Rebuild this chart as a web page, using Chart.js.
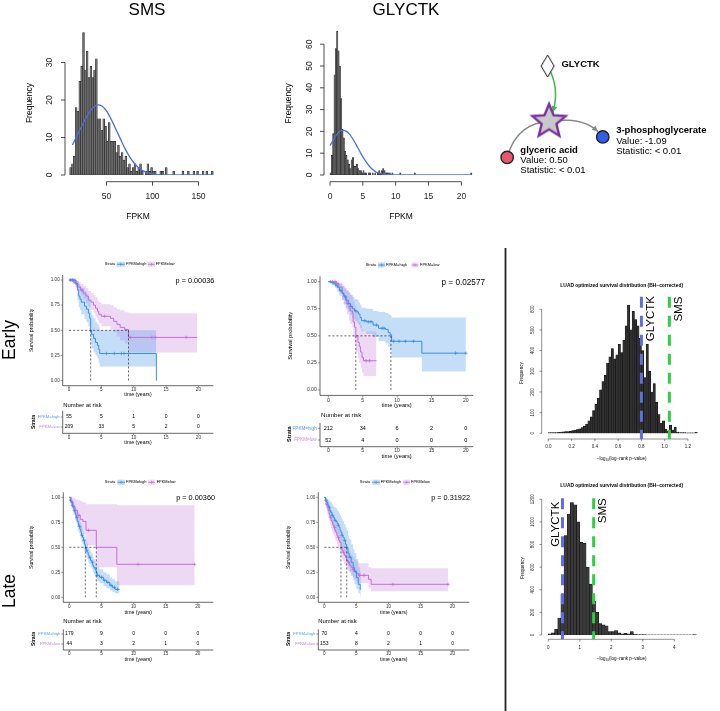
<!DOCTYPE html>
<html><head><meta charset="utf-8"><title>SMS / GLYCTK survival figure</title>
<script src="https://cdn.jsdelivr.net/npm/chart.js@4.4.1/dist/chart.umd.min.js"></script>
<style>
html,body{margin:0;padding:0;background:#fff;}
#wrap{position:relative;width:720px;height:711px;overflow:hidden;background:#fff;}
#wrap canvas{position:absolute;left:0;top:0;}
</style></head><body><div id="wrap"></div>
<script>
// ================= DATA =================
// SMS expression histogram (bins of 2 FPKM starting at 10)
const smsBinStart = 10, smsBinWidth = 2;
const smsCounts = [2,3,5,18,17,25,29,38,28,33, 26,29,26,28,31,15,15,12,15,13, 9,14,9,9,9,6,8,5,6,4, 5,2,3,1,2,3,1,2,3,1, 0,1,3,1,2,1,1,0,0,1, 1,0,2,0,0,0,1,0,0,0, 0,1,0,0,1,0,0,1,0,1, 0,0,1,0,1,0,0,1];
const smsDensity = [[13,8],[20,11.5],[25,14],[30,16.2],[35,17.9],[41,18.7],[45,18.4],[50,17.1],[55,14.9],[60,12.3],[65,9.7],[70,7.1],[75,4.9],[80,3.2],[85,1.9],[90,1.1],[95,0.6],[100,0.3],[110,0.05],[120,0],[166,0]];
const smsYTicks = [0,10,20,30];
const smsXTicks = [50,100,150];

// GLYCTK expression histogram (bins of 0.2 FPKM starting at 0)
const glyBinStart = 0, glyBinWidth = 0.2;
const glyCounts = [1,9,19,46,58,66,57,50,35,21, 17,11,9,7,5,3,7,8,4,4, 5,3,2,2,1,2,1,1,0,1, 1,0,1,0,1,0,1,2,1,2, 3,2,1,1,1,1,0,1,0,0, 0,0,0,1,0,0,0,0,0,0, 0,0,0,0,1,0,0,0,0,0, 0,0,0,0,0,0,0,0,0,0, 0,0,0,0,0,0,0,0,0,0, 0,0,0,0,0,0,0,0,0,0, 0,0,0,0,0,0,0,1];
const glyDensity = [[0,13.5],[0.5,16],[1,18.5],[1.5,20],[2,20.5],[2.5,20],[3,18.6],[3.5,16.4],[4,13.8],[4.5,11],[5,8.3],[5.5,6],[6,4],[6.5,2.5],[7,1.4],[7.5,0.8],[8,0.4],[9,0.1],[10,0],[21.5,0]];
const glyYTicks = [0,10,20,30,40,50,60];
const glyXTicks = [0,5,10,15,20];

// Pathway diagram nodes
const nodeNames = ['GLYCTK','reaction','glyceric acid','3-phosphoglycerate'];
const nodeX = [73.5, 75, 29.5, 133.3];
const nodeY = [52, 113.3, 153, 130.3];
const metValues = ['0.50','-1.09'];
const metStats = ['< 0.01','< 0.01'];

// Kaplan-Meier curves [time, survival]
const riskTimes = [0,5,10,15,20];
const survTicks = [0,0.25,0.5,0.75,1];
const survTickLabels = ['0.00','0.25','0.50','0.75','1.00'];

// Early, SMS
const e1High = [[0,1],[1.07,0.97],[1.3,0.9],[1.5,0.84],[1.7,0.81],[1.9,0.78],[2.4,0.74],[2.7,0.71],[3.0,0.67],[3.2,0.62],[3.35,0.5],[3.5,0.46],[3.8,0.42],[4.1,0.38],[4.4,0.35],[4.6,0.31],[4.75,0.27],[13.5,0]];
const e1HighUp = [[0,1],[1.07,1],[1.3,0.99],[1.5,0.96],[1.7,0.94],[1.9,0.92],[2.4,0.89],[2.7,0.86],[3.0,0.83],[3.2,0.79],[3.35,0.69],[3.5,0.65],[3.8,0.62],[4.1,0.58],[4.4,0.56],[4.6,0.53],[4.75,0.5],[13.5,0.5]];
const e1HighLo = [[0,1],[1.07,0.92],[1.3,0.8],[1.5,0.73],[1.7,0.7],[1.9,0.66],[2.4,0.61],[2.7,0.58],[3.0,0.54],[3.2,0.48],[3.35,0.36],[3.5,0.32],[3.8,0.28],[4.1,0.25],[4.4,0.22],[4.6,0.18],[4.75,0.14],[13.5,0.14]];
const e1Low = [[0,1],[0.6,0.98],[1.0,0.96],[1.4,0.93],[1.8,0.9],[2.2,0.87],[2.6,0.84],[3.0,0.8],[3.4,0.78],[3.8,0.75],[4.1,0.72],[4.4,0.69],[4.6,0.66],[5.0,0.64],[6.4,0.62],[6.9,0.59],[7.4,0.56],[7.9,0.53],[8.6,0.51],[9.2,0.43],[19.8,0.43]];
const e1LowUp = [[0,1],[0.6,1],[1.0,0.99],[1.4,0.98],[1.8,0.96],[2.2,0.94],[2.6,0.92],[3.0,0.89],[3.4,0.87],[3.8,0.85],[4.1,0.83],[4.4,0.8],[4.6,0.78],[5.0,0.76],[6.4,0.75],[6.9,0.73],[7.4,0.71],[7.9,0.7],[8.6,0.68],[9.2,0.67],[19.8,0.67]];
const e1LowLo = [[0,1],[0.6,0.96],[1.0,0.93],[1.4,0.89],[1.8,0.85],[2.2,0.81],[2.6,0.77],[3.0,0.73],[3.4,0.7],[3.8,0.67],[4.1,0.63],[4.4,0.6],[4.6,0.57],[5.0,0.54],[6.4,0.51],[6.9,0.48],[7.4,0.44],[7.9,0.4],[8.6,0.37],[9.2,0.28],[19.8,0.28]];
const e1CensorHigh = [0.3,0.6,0.8,5.8,7.0,8.1,8.5];
const e1CensorLow = [0.2,0.5,0.9,1.2,2.0,5.5,9.5,12.8,13.3,18.1];
const e1Medians = [3.35,9.2];
const e1RiskHigh = [55,5,1,0,0];
const e1RiskLow = [209,33,5,2,0];

// Early, GLYCTK
const e2High = [[0,1],[0.5,0.99],[1.0,0.97],[1.3,0.95],[1.6,0.92],[2.0,0.89],[2.3,0.86],[2.6,0.83],[2.9,0.8],[3.2,0.77],[3.5,0.75],[3.8,0.73],[4.2,0.72],[4.4,0.7],[4.6,0.67],[4.8,0.64],[5.5,0.63],[6.5,0.6],[7.3,0.57],[8.3,0.56],[8.7,0.53],[9.0,0.51],[9.2,0.45],[13.6,0.34],[20,0.34]];
const e2HighUp = [[0,1],[0.5,1],[1.0,1],[1.3,0.99],[1.6,0.98],[2.0,0.96],[2.3,0.94],[2.6,0.92],[2.9,0.9],[3.2,0.88],[3.5,0.86],[3.8,0.84],[4.2,0.83],[4.4,0.81],[4.6,0.79],[4.8,0.76],[5.5,0.75],[6.5,0.73],[7.3,0.72],[8.3,0.71],[8.7,0.7],[9.0,0.69],[9.2,0.67],[13.6,0.67],[20,0.67]];
const e2HighLo = [[0,1],[0.5,0.97],[1.0,0.94],[1.3,0.91],[1.6,0.87],[2.0,0.83],[2.3,0.79],[2.6,0.76],[2.9,0.72],[3.2,0.69],[3.5,0.66],[3.8,0.64],[4.2,0.62],[4.4,0.6],[4.6,0.57],[4.8,0.54],[5.5,0.52],[6.5,0.49],[7.3,0.45],[8.3,0.43],[8.7,0.4],[9.0,0.37],[9.2,0.3],[13.6,0.17],[20,0.17]];
const e2Low = [[0,1],[1.2,0.98],[1.5,0.95],[2.0,0.9],[2.2,0.87],[2.5,0.83],[2.7,0.8],[3.0,0.75],[3.2,0.73],[3.5,0.71],[3.6,0.63],[3.8,0.58],[4.0,0.5],[4.3,0.44],[4.5,0.4],[4.7,0.35],[4.9,0.3],[5.1,0.27],[7.0,0.27]];
const e2LowUp = [[0,1],[1.2,1],[1.5,0.99],[2.0,0.98],[2.2,0.96],[2.5,0.94],[2.7,0.92],[3.0,0.9],[3.2,0.88],[3.5,0.87],[3.6,0.82],[3.8,0.78],[4.0,0.72],[4.3,0.67],[4.5,0.63],[4.7,0.6],[4.9,0.56],[5.1,0.54],[7.0,0.54]];
const e2LowLo = [[0,1],[1.2,0.94],[1.5,0.9],[2.0,0.83],[2.2,0.79],[2.5,0.74],[2.7,0.7],[3.0,0.64],[3.2,0.61],[3.5,0.58],[3.6,0.49],[3.8,0.43],[4.0,0.35],[4.3,0.29],[4.5,0.25],[4.7,0.2],[4.9,0.16],[5.1,0.13],[7.0,0.13]];
const e2CensorHigh = [0.3,0.7,1.1,1.8,2.5,3.3,4.0,5.3,5.8,6.2,7.0,7.8,8.1,9.5,10.3,11.2,12.4,18.5,20];
const e2CensorLow = [0.6,1.0,1.4,2.8,5.5,6.0];
const e2Medians = [4.0,9.1];
const e2RiskHigh = [212,34,6,2,0];
const e2RiskLow = [52,4,0,0,0];

// Late, SMS
const l1High = [[0,1],[0.15,0.97],[0.3,0.95],[0.45,0.92],[0.6,0.9],[0.75,0.87],[0.9,0.85],[1.0,0.82],[1.1,0.8],[1.25,0.76],[1.4,0.73],[1.5,0.71],[1.65,0.68],[1.8,0.65],[1.9,0.62],[2.05,0.6],[2.2,0.57],[2.35,0.53],[2.5,0.5],[2.65,0.47],[2.8,0.45],[2.95,0.42],[3.1,0.4],[3.3,0.37],[3.5,0.35],[3.65,0.32],[3.8,0.3],[4.0,0.28],[4.15,0.26],[4.3,0.22],[4.7,0.2],[5.3,0.17],[5.8,0.15],[6.3,0.12],[6.7,0.1],[7.1,0.08],[7.8,0.08]];
const l1HighUp = [[0,1],[0.15,0.99],[0.3,0.98],[0.45,0.96],[0.6,0.94],[0.75,0.92],[0.9,0.9],[1.0,0.88],[1.1,0.86],[1.25,0.83],[1.4,0.8],[1.5,0.78],[1.65,0.75],[1.8,0.72],[1.9,0.7],[2.05,0.67],[2.2,0.64],[2.35,0.61],[2.5,0.58],[2.65,0.55],[2.8,0.53],[2.95,0.5],[3.1,0.48],[3.3,0.45],[3.5,0.43],[3.65,0.4],[3.8,0.38],[4.0,0.36],[4.15,0.34],[4.3,0.3],[4.7,0.28],[5.3,0.25],[5.8,0.23],[6.3,0.2],[6.7,0.18],[7.1,0.16],[7.8,0.16]];
const l1HighLo = [[0,1],[0.15,0.94],[0.3,0.91],[0.45,0.88],[0.6,0.85],[0.75,0.82],[0.9,0.79],[1.0,0.76],[1.1,0.74],[1.25,0.7],[1.4,0.66],[1.5,0.64],[1.65,0.61],[1.8,0.58],[1.9,0.55],[2.05,0.53],[2.2,0.5],[2.35,0.46],[2.5,0.43],[2.65,0.4],[2.8,0.38],[2.95,0.35],[3.1,0.33],[3.3,0.3],[3.5,0.28],[3.65,0.25],[3.8,0.23],[4.0,0.21],[4.15,0.19],[4.3,0.16],[4.7,0.14],[5.3,0.11],[5.8,0.09],[6.3,0.07],[6.7,0.05],[7.1,0.04],[7.8,0.04]];
const l1Low = [[0,1],[0.3,0.95],[0.6,0.91],[0.9,0.87],[1.3,0.82],[1.7,0.78],[2.1,0.76],[2.6,0.67],[4.2,0.5],[7.4,0.33],[19.5,0.33]];
const l1LowUp = [[0,1],[0.3,1],[0.6,0.99],[0.9,0.98],[1.3,0.97],[1.7,0.96],[2.1,0.95],[2.6,0.93],[4.2,0.93],[7.4,0.92],[19.5,0.92]];
const l1LowLo = [[0,1],[0.3,0.89],[0.6,0.83],[0.9,0.77],[1.3,0.71],[1.7,0.66],[2.1,0.63],[2.6,0.52],[4.2,0.3],[7.4,0.12],[19.5,0.12]];
const l1CensorHigh = [0.2,0.5,0.8,1.2,1.6,2.0,2.3,2.7,3.2,3.6,4.4,5.0,5.5,6.0,6.5,7.0,7.5];
const l1CensorLow = [0.5,1.5,3.0,10.7,19.5];
const l1Medians = [2.5,4.2];
const l1RiskHigh = [179,9,0,0,0];
const l1RiskLow = [44,3,2,1,0];

// Late, GLYCTK
const l2High = [[0,1],[0.2,0.97],[0.4,0.95],[0.55,0.92],[0.7,0.9],[0.85,0.87],[1.0,0.85],[1.2,0.82],[1.4,0.8],[1.6,0.77],[1.8,0.76],[2.0,0.74],[2.15,0.72],[2.3,0.7],[2.45,0.67],[2.6,0.65],[2.75,0.62],[2.9,0.6],[3.1,0.57],[3.3,0.53],[3.5,0.5],[3.7,0.44],[3.9,0.4],[4.2,0.35],[4.5,0.3],[4.7,0.26],[5.0,0.2],[5.3,0.13],[5.6,0.08],[5.7,0.08]];
const l2HighUp = [[0,1],[0.2,1],[0.4,0.99],[0.55,0.98],[0.7,0.97],[0.85,0.96],[1.0,0.95],[1.2,0.93],[1.4,0.91],[1.6,0.9],[1.8,0.89],[2.0,0.87],[2.15,0.86],[2.3,0.84],[2.45,0.82],[2.6,0.8],[2.75,0.78],[2.9,0.76],[3.1,0.73],[3.3,0.7],[3.5,0.67],[3.7,0.62],[3.9,0.58],[4.2,0.53],[4.5,0.48],[4.7,0.44],[5.0,0.38],[5.3,0.3],[5.6,0.25],[5.7,0.25]];
const l2HighLo = [[0,1],[0.2,0.93],[0.4,0.9],[0.55,0.86],[0.7,0.83],[0.85,0.79],[1.0,0.76],[1.2,0.72],[1.4,0.69],[1.6,0.65],[1.8,0.64],[2.0,0.62],[2.15,0.59],[2.3,0.57],[2.45,0.54],[2.6,0.51],[2.75,0.48],[2.9,0.46],[3.1,0.42],[3.3,0.39],[3.5,0.35],[3.7,0.3],[3.9,0.26],[4.2,0.21],[4.5,0.17],[4.7,0.13],[5.0,0.08],[5.3,0.04],[5.6,0.01],[5.7,0.01]];
const l2Low = [[0,1],[0.15,0.96],[0.3,0.93],[0.45,0.9],[0.6,0.87],[0.75,0.83],[0.9,0.8],[1.05,0.77],[1.2,0.75],[1.35,0.72],[1.5,0.7],[1.65,0.67],[1.8,0.65],[1.95,0.62],[2.1,0.6],[2.25,0.57],[2.4,0.55],[2.6,0.5],[2.75,0.47],[2.9,0.45],[3.1,0.42],[3.3,0.4],[3.5,0.37],[3.7,0.35],[3.95,0.32],[4.2,0.3],[4.45,0.28],[4.7,0.26],[5.0,0.24],[5.3,0.22],[6.9,0.18],[7.3,0.13],[19.3,0.13]];
const l2LowUp = [[0,1],[0.15,0.99],[0.3,0.98],[0.45,0.96],[0.6,0.94],[0.75,0.91],[0.9,0.89],[1.05,0.86],[1.2,0.84],[1.35,0.82],[1.5,0.8],[1.65,0.77],[1.8,0.75],[1.95,0.73],[2.1,0.71],[2.25,0.68],[2.4,0.66],[2.6,0.62],[2.75,0.59],[2.9,0.57],[3.1,0.54],[3.3,0.52],[3.5,0.49],[3.7,0.47],[3.95,0.44],[4.2,0.42],[4.45,0.4],[4.7,0.38],[5.0,0.36],[5.3,0.34],[6.9,0.3],[7.3,0.29],[19.3,0.29]];
const l2LowLo = [[0,1],[0.15,0.92],[0.3,0.88],[0.45,0.84],[0.6,0.8],[0.75,0.76],[0.9,0.72],[1.05,0.69],[1.2,0.66],[1.35,0.63],[1.5,0.61],[1.65,0.58],[1.8,0.56],[1.95,0.53],[2.1,0.51],[2.25,0.48],[2.4,0.46],[2.6,0.41],[2.75,0.38],[2.9,0.36],[3.1,0.33],[3.3,0.31],[3.5,0.28],[3.7,0.26],[3.95,0.24],[4.2,0.22],[4.45,0.2],[4.7,0.18],[5.0,0.16],[5.3,0.14],[6.9,0.09],[7.3,0.06],[19.3,0.06]];
const l2CensorHigh = [0.3,0.8,1.3,1.7,2.2,2.8,3.2,4.0,4.8];
const l2CensorLow = [0.4,1.0,1.6,2.2,3.0,3.8,4.5,5.5,6.2,10.7,19.3];
const l2Medians = [2.6,3.5];
const l2RiskHigh = [70,4,0,0,0];
const l2RiskLow = [153,8,2,1,0];

const pValues = ['p = 0.00036','p = 0.02577','p = 0.00360','p = 0.31922'];

// LUAD optimized survival distributions
const earlyBinStart = 0, earlyBinWidth = 0.02;
const earlyCounts = [3,3,4,4,5,6,7,8,8,10, 13,15,18,22,28,35,45,60,80,110, 140,170,210,250,280,340,370,410,360,380, 430,390,450,520,620,500,590,550,520,460, 400,270,430,300,200,240,150,90,50,60, 20,10,40,15,30,5,4,3,3,2, 2,2,2,5];
const earlyYTicks = [0,100,200,300,400,500,600];
const earlyXTicks = [0,0.2,0.4,0.6,0.8,1.0,1.2];
const earlyGeneNames = ['GLYCTK','SMS'];
const earlyGeneScores = [0.80,1.04];

const lateBinStart = 0, lateBinWidth = 0.1;
const lateCounts = [10,20,50,150,360,880,1070,1170,1150,1000, 820,810,600,450,300,200,100,90,80,30, 30,40,20,10,15,10,30,5,4,3, 3,2,2,2,2,2,1,1,1,1, 1,1,1,1,1,1,3];
const lateYTicks = [0,200,400,600,800,1000,1200];
const lateXTicks = [0,1,2,3,4];
const lateGeneNames = ['GLYCTK','SMS'];
const lateGeneScores = [0.45,1.44];

// ================= STYLE / HELPERS =================
const FF = '"Liberation Sans", Arial, Helvetica, sans-serif';
const HIGH = '#3b8ee6', LOW = '#c66cd8';
const HIGH_BAND = 'rgba(80,155,235,0.33)', LOW_BAND = 'rgba(200,130,222,0.30)';
const HIGH_TXT = '#4c9ce9', LOW_TXT = '#cf84e0';
const GENE_COLORS = ['#5b6fe3','#2fcf42'];

function mk(){const c=document.createElement('canvas');c.width=720;c.height=711;c.style.width='720px';c.style.height='711px';document.getElementById('wrap').appendChild(c);return c;}
function pad(r){return {left:r[0],top:r[1],right:720-r[2],bottom:711-r[3]};}
function txt(ctx,s,x,y,o){o=o||{};ctx.save();ctx.font=(o.w||'normal')+' '+(o.size||10)+'px '+FF;ctx.fillStyle=o.color||'#000';ctx.textAlign=o.align||'center';ctx.textBaseline=o.base||'middle';ctx.translate(x,y);if(o.rot)ctx.rotate(o.rot);ctx.fillText(s,0,0);ctx.restore();}
function ln(ctx,x1,y1,x2,y2,color,w,dash){ctx.save();ctx.strokeStyle=color||'#000';ctx.lineWidth=w||1;if(dash)ctx.setLineDash(dash);ctx.beginPath();ctx.moveTo(x1,y1);ctx.lineTo(x2,y2);ctx.stroke();ctx.restore();}
function baseOpts(rect,scales){return {responsive:false,maintainAspectRatio:false,animation:false,events:[],devicePixelRatio:1,layout:{padding:pad(rect)},scales:scales,plugins:{legend:{display:false},tooltip:{enabled:false},title:{display:false}}};}
const ROT = -Math.PI/2;

// R-style detached axes
function rAxes(ch,A){
  const ctx=ch.ctx,xs=ch.scales.x,ys=ch.scales.y;
  const yt=A.yTicks,xt=A.xTicks;
  ln(ctx,A.yLineX,ys.getPixelForValue(yt[0]),A.yLineX,ys.getPixelForValue(yt[yt.length-1]),'#222',A.lw);
  yt.forEach((v,i)=>{const y=ys.getPixelForValue(v);ln(ctx,A.yLineX-A.tl,y,A.yLineX,y,'#222',A.lw);txt(ctx,A.yLabels[i],A.yLabX,y,{size:A.fs,rot:ROT,color:'#222'});});
  ln(ctx,xs.getPixelForValue(xt[0]),A.xLineY,xs.getPixelForValue(xt[xt.length-1]),A.xLineY,'#222',A.lw);
  xt.forEach((v,i)=>{const x=xs.getPixelForValue(v);ln(ctx,x,A.xLineY,x,A.xLineY+A.tl,'#222',A.lw);txt(ctx,A.xLabels[i],x,A.xLabY,{size:A.fs,color:'#222'});});
}

function rHist(H){
  const bars=H.counts.map((v,i)=>({x:H.start+H.width*(i+0.5),y:v}));
  const ds=[];
  if(H.curve) ds.push({type:'line',data:H.curve.map(p=>({x:p[0],y:p[1]})),borderColor:'#4a6fe3',borderWidth:1.3,pointRadius:0,cubicInterpolationMode:'monotone',fill:false});
  ds.push({type:'bar',data:bars,backgroundColor:H.fill,borderColor:H.border,borderWidth:H.bw,barPercentage:1,categoryPercentage:1,borderSkipped:false});
  new Chart(mk(),{type:'bar',data:{datasets:ds},
    options:baseOpts(H.rect,{x:{type:'linear',offset:false,display:false,min:H.xmin,max:H.xmax},y:{type:'linear',display:false,min:H.ymin,max:H.ymax}}),
    plugins:[{id:'rdeco',afterDraw(ch){H.deco(ch);}}]});
}

function negLogLabel(ctx,cx,y,size){
  const parts=[['\u2212log',size,0],['10',size*0.7,size*0.35],['(log\u2212rank p\u2212value)',size,0]];
  ctx.save();let w=0;
  parts.forEach(p=>{ctx.font=p[1]+'px '+FF;w+=ctx.measureText(p[0]).width;});
  let x=cx-w/2;
  parts.forEach(p=>{ctx.font=p[1]+'px '+FF;ctx.fillStyle='#000';ctx.textAlign='left';ctx.textBaseline='middle';ctx.fillText(p[0],x,y+p[2]);x+=ctx.measureText(p[0]).width;});
  ctx.restore();
}

function survAt(curve,t){let s=1;for(const p of curve){if(p[0]<=t)s=p[1];else break;}return s;}

function legendKey(ctx,x0,x1,y,color,band){
  ctx.save();ctx.fillStyle=band;ctx.fillRect(x0,y-2.6,x1-x0,5.2);ctx.restore();
  ln(ctx,x0,y,x1,y,color,0.8);
  const xm=(x0+x1)/2;ln(ctx,xm-1.6,y,xm+1.6,y,color,0.6);ln(ctx,xm,y-1.6,xm,y+1.6,color,0.6);
}

function kmDeco(ch,P){
  const ctx=ch.ctx,xs=ch.scales.x,ys=ch.scales.y,a=ch.chartArea,f=P.fs;
  const X=v=>xs.getPixelForValue(v),Y=v=>ys.getPixelForValue(v);
  const y5=Y(0.5),y0=Y(0),mx=Math.max(...P.medians);
  ln(ctx,X(0),y5,X(mx),y5,'#111',0.6,[2.2,1.8]);
  P.medians.forEach(m=>ln(ctx,X(m),y5,X(m),y0,'#111',0.6,[2.2,1.8]));
  ln(ctx,a.left,a.top,a.left,a.bottom,'#000',0.6);
  ln(ctx,a.left,a.bottom,a.right,a.bottom,'#000',0.6);
  survTicks.forEach((v,i)=>{const y=Y(v);ln(ctx,a.left-2*f,y,a.left,y,'#333',0.5);txt(ctx,survTickLabels[i],a.left-3*f,y,{size:4.6*f,align:'right',color:'#333'});});
  riskTimes.forEach(t=>{const x=X(t);ln(ctx,x,a.bottom,x,a.bottom+2*f,'#333',0.5);txt(ctx,String(t),x,a.bottom+4.4*f,{size:4.6*f,color:'#333'});});
  txt(ctx,'Survival probability',P.ylabX,(a.top+a.bottom)/2,{size:5.2*f,rot:ROT});
  txt(ctx,'time (years)',(a.left+a.right)/2,P.xlabY,{size:5.2*f});
  // legend
  const labs=['FPKM=high','FPKM=low'],cols=[HIGH,LOW],bands=[HIGH_BAND,LOW_BAND],tcols=[HIGH_TXT,LOW_TXT];
  txt(ctx,'Strata',P.legStrataX,P.legY,{size:P.legSize});
  [0,1].forEach(i=>{legendKey(ctx,P.keys[i][0],P.keys[i][1],P.legY,cols[i],bands[i]);txt(ctx,labs[i],P.labX[i],P.legY,{size:P.legSize,align:'left'});});
  // p-value
  txt(ctx,P.pText,P.pRight,P.pY,{size:P.pSize,align:'right'});
  // risk table
  txt(ctx,'Number at risk',P.riskX,P.riskY,{size:P.riskSize,align:'left'});
  [P.riskHigh,P.riskLow].forEach((r,i)=>{const y=P.rowY[i];
    txt(ctx,labs[i],a.left-3*f,y,{size:4.2*f,align:'right',color:tcols[i]});
    ln(ctx,a.left-2*f,y,a.left,y,'#333',0.5);
    r.forEach((n,j)=>txt(ctx,String(n),X(riskTimes[j]),y,{size:5*f}));});
  ln(ctx,a.left,P.tabTop,a.left,P.tabAxisY,'#000',0.6);
  ln(ctx,a.left,P.tabAxisY,a.right,P.tabAxisY,'#000',0.6);
  riskTimes.forEach(t=>{const x=X(t);ln(ctx,x,P.tabAxisY,x,P.tabAxisY+2*f,'#333',0.5);txt(ctx,String(t),x,P.tabLabY,{size:4.6*f,color:'#333'});});
  txt(ctx,'time (years)',(a.left+a.right)/2,P.tabXlabY,{size:5.2*f});
  txt(ctx,'Strata',P.strataX,(P.rowY[0]+P.rowY[1])/2,{size:5*f,rot:ROT,w:'bold'});
}

function km(P){
  const xy=a=>a.map(p=>({x:p[0],y:p[1]}));
  const line=(d,col)=>({data:xy(d),borderColor:col,borderWidth:1,stepped:true,pointRadius:0,fill:false});
  const band=(d,fillOpt,bg)=>({data:xy(d),borderColor:'rgba(0,0,0,0)',borderWidth:0,stepped:true,pointRadius:0,fill:fillOpt,backgroundColor:bg});
  const cens=(ts,curve,col)=>({data:ts.map(t=>({x:t,y:survAt(curve,t)})),showLine:false,pointStyle:'cross',pointRadius:1.8,pointBorderColor:col,pointBorderWidth:0.7,borderColor:col,pointBackgroundColor:col});
  const ds=[line(P.high,HIGH),line(P.low,LOW),cens(P.cenHigh,P.high,HIGH),cens(P.cenLow,P.low,LOW),
    band(P.highUp,false,HIGH_BAND),band(P.highLo,'-1',HIGH_BAND),band(P.lowUp,false,LOW_BAND),band(P.lowLo,'-1',LOW_BAND)];
  new Chart(mk(),{type:'line',data:{datasets:ds},
    options:baseOpts(P.rect,{x:{type:'linear',display:false,min:P.xmin,max:P.xmax},y:{type:'linear',display:false,min:-0.05,max:1.05}}),
    plugins:[{id:'kmdeco',afterDraw(ch){kmDeco(ch,P);}}]});
}

// ================= TOP ROW HISTOGRAMS =================
rHist({rect:[60.5,25,216.9,175],xmin:0,xmax:170,ymin:0,ymax:40,start:smsBinStart,width:smsBinWidth,counts:smsCounts,curve:smsDensity,
  fill:'#6f6f6f',border:'#1e1e1e',bw:0.5,
  deco(ch){const ctx=ch.ctx;
    rAxes(ch,{yTicks:smsYTicks,yLabels:smsYTicks.map(String),yLineX:65,yLabX:50,xTicks:smsXTicks,xLabels:smsXTicks.map(String),xLineY:181.7,xLabY:196.7,tl:4,fs:8.5,lw:0.8});
    txt(ctx,'Frequency',30,103,{size:8.5,rot:ROT});
    txt(ctx,'FPKM',138,217,{size:8.5});
    txt(ctx,'SMS',147,14.5,{size:17,base:'alphabetic'});}});

rHist({rect:[323.43,22.4,474.54,175],xmin:-1,xmax:22,ymin:0,ymax:70,start:glyBinStart,width:glyBinWidth,counts:glyCounts,curve:glyDensity,
  fill:'#5e5e5e',border:'#1e1e1e',bw:0.5,
  deco(ch){const ctx=ch.ctx;
    rAxes(ch,{yTicks:glyYTicks,yLabels:glyYTicks.map(String),yLineX:324,yLabX:309.5,xTicks:glyXTicks,xLabels:glyXTicks.map(String),xLineY:181.7,xLabY:196.7,tl:4,fs:8.5,lw:0.8});
    txt(ctx,'Frequency',288.3,103.3,{size:8.5,rot:ROT});
    txt(ctx,'FPKM',401,217,{size:8.5});
    txt(ctx,'GLYCTK',406,14.5,{size:17,base:'alphabetic'});}});

// ================= LUAD DISTRIBUTIONS =================
function luadDeco(ch,L){
  const ctx=ch.ctx,xs=ch.scales.x;
  rAxes(ch,{yTicks:L.yTicks,yLabels:L.yTicks.map(String),yLineX:541.7,yLabX:533,xTicks:L.xTicks,xLabels:L.xLabels,xLineY:L.xLineY,xLabY:L.xLabY,tl:2.2,fs:4.5,lw:0.5});
  txt(ctx,'LUAD optimized survival distribution (BH\u2212corrected)',621.7,L.titleY,{size:4.9,w:'bold'});
  txt(ctx,'Frequency',L.freqX,L.freqY,{size:4.5,rot:ROT});
  negLogLabel(ctx,621.7,L.xlabY,4.5);
  L.names.forEach((n,i)=>{const x=xs.getPixelForValue(L.scores[i]);
    ln(ctx,x,L.lineTop,x,L.xLineY,GENE_COLORS[i],3,[11,8]);
    txt(ctx,n,x+L.labOff[i],L.labTop[i],{size:11.5,rot:ROT,align:'right'});});
}
rHist({rect:[541.32,288.6,699.62,433.3],xmin:-0.06,xmax:1.30,ymin:0,ymax:700,start:earlyBinStart,width:earlyBinWidth,counts:earlyCounts,
  fill:'#303030',border:'#0d0d0d',bw:0.5,
  deco(ch){luadDeco(ch,{yTicks:earlyYTicks,xTicks:earlyXTicks,xLabels:earlyXTicks.map(v=>v.toFixed(1)),xLineY:439,xLabY:446.7,titleY:286,freqX:521.7,freqY:373,xlabY:458.3,
    names:earlyGeneNames,scores:earlyGeneScores,lineTop:296.7,labOff:[9.3,9.6],labTop:[296,296.7]});}});
rHist({rect:[542,487.97,702.65,635],xmin:-0.2,xmax:4.9,ymin:0,ymax:1300,start:lateBinStart,width:lateBinWidth,counts:lateCounts,
  fill:'#3a3a3a',border:'#0d0d0d',bw:0.5,
  deco(ch){luadDeco(ch,{yTicks:lateYTicks,xTicks:lateXTicks,xLabels:lateXTicks.map(String),xLineY:639.3,xLabY:647.3,titleY:486,freqX:523,freqY:568,xlabY:659,
    names:lateGeneNames,scores:lateGeneScores,lineTop:498.3,labOff:[-6.3,9.5],labTop:[501.7,498.3]});}});

// ================= KAPLAN-MEIER PANELS =================
km({rect:[62.7,275,213.3,385.7],xmin:-0.97,xmax:22.3,fs:1.0,
  high:e1High,highUp:e1HighUp,highLo:e1HighLo,low:e1Low,lowUp:e1LowUp,lowLo:e1LowLo,cenHigh:e1CensorHigh,cenLow:e1CensorLow,medians:e1Medians,
  riskHigh:e1RiskHigh,riskLow:e1RiskLow,pText:pValues[0],pRight:214.3,pY:281,pSize:7.3,
  legY:264.3,legStrataX:110,legSize:3.9,keys:[[116.7,125],[147.7,155]],labX:[126,155.7],
  ylabX:32,xlabY:395,riskX:63.3,riskY:405,riskSize:5.9,rowY:[417,427],tabTop:410.7,tabAxisY:433.3,tabLabY:437.5,tabXlabY:442.3,strataX:33.3});
km({rect:[320,276.3,473.3,395.4],xmin:-1.21,xmax:21.08,fs:1.1,
  high:e2High,highUp:e2HighUp,highLo:e2HighLo,low:e2Low,lowUp:e2LowUp,lowLo:e2LowLo,cenHigh:e2CensorHigh,cenLow:e2CensorLow,medians:e2Medians,
  riskHigh:e2RiskHigh,riskLow:e2RiskLow,pText:pValues[1],pRight:485,pY:282.7,pSize:8.2,
  legY:265,legStrataX:371,legSize:4.0,keys:[[378,385],[411.7,418.3]],labX:[386,420],
  ylabX:290,xlabY:405,riskX:321,riskY:415,riskSize:6.2,rowY:[428.3,440],tabTop:423,tabAxisY:446.7,tabLabY:451,tabXlabY:456.7,strataX:289.3});
km({rect:[63.3,492.3,213.3,602.3],xmin:-0.93,xmax:22.4,fs:1.0,
  high:l1High,highUp:l1HighUp,highLo:l1HighLo,low:l1Low,lowUp:l1LowUp,lowLo:l1LowLo,cenHigh:l1CensorHigh,cenLow:l1CensorLow,medians:l1Medians,
  riskHigh:l1RiskHigh,riskLow:l1RiskLow,pText:pValues[2],pRight:215,pY:498.3,pSize:7.3,
  legY:482.3,legStrataX:110,legSize:3.9,keys:[[117.3,125],[148.3,155]],labX:[126,156.7],
  ylabX:32,xlabY:612.7,riskX:63.3,riskY:621.7,riskSize:5.9,rowY:[634,644],tabTop:629.3,tabAxisY:650,tabLabY:654.2,tabXlabY:660,strataX:33.3});
km({rect:[318.3,492.3,469.3,602.3],xmin:-0.93,xmax:22.6,fs:1.0,
  high:l2High,highUp:l2HighUp,highLo:l2HighLo,low:l2Low,lowUp:l2LowUp,lowLo:l2LowLo,cenHigh:l2CensorHigh,cenLow:l2CensorLow,medians:l2Medians,
  riskHigh:l2RiskHigh,riskLow:l2RiskLow,pText:pValues[3],pRight:470,pY:498.3,pSize:7.3,
  legY:482.3,legStrataX:365,legSize:3.9,keys:[[372.3,380],[403.3,410]],labX:[380.7,411],
  ylabX:288.3,xlabY:612.7,riskX:318.3,riskY:621.7,riskSize:5.9,rowY:[634,644],tabTop:629.3,tabAxisY:650,tabLabY:654.2,tabXlabY:660,strataX:288.3});

// ================= PATHWAY DIAGRAM =================
function starImg(){const c=document.createElement('canvas');c.width=42;c.height=42;const g=c.getContext('2d');g.beginPath();
  for(let i=0;i<10;i++){const r=i%2?7.8:17.5;const a=-Math.PI/2+i*Math.PI/5;const x=21+r*Math.cos(a),y=21+r*Math.sin(a);if(i)g.lineTo(x,y);else g.moveTo(x,y);}
  g.closePath();g.fillStyle='#c8c8c8';g.fill();g.lineWidth=2.4;g.strokeStyle='#7a2fa0';g.stroke();return c;}
function diamondImg(){const c=document.createElement('canvas');c.width=15;c.height=24;const g=c.getContext('2d');g.beginPath();
  g.moveTo(7.5,1);g.lineTo(14,12);g.lineTo(7.5,23);g.lineTo(1,12);g.closePath();g.fillStyle='#fff';g.fill();g.lineWidth=1;g.strokeStyle='#111';g.stroke();return c;}
// edges: [from, to, controlX, controlY, color, arrow, endRadius]
const edges = [[2,1,40,115,'#84898b',false,0],[1,3,116,106.5,'#84898b',true,7],[0,1,89.75,81.5,'#3cb843',true,10]];
function drawEdge(ctx,p0,c,p2,color,arrow,endR){
  const B=t=>({x:(1-t)*(1-t)*p0.x+2*(1-t)*t*c.x+t*t*p2.x,y:(1-t)*(1-t)*p0.y+2*(1-t)*t*c.y+t*t*p2.y});
  let tEnd=1;if(endR>0){for(let t=1;t>0;t-=0.004){const b=B(t);if(Math.hypot(b.x-p2.x,b.y-p2.y)>=endR){tEnd=t;break;}}}
  ctx.save();ctx.strokeStyle=color;ctx.lineWidth=1.5;ctx.beginPath();
  for(let i=0;i<=60;i++){const b=B(tEnd*i/60);if(i)ctx.lineTo(b.x,b.y);else ctx.moveTo(b.x,b.y);}ctx.stroke();
  if(arrow){const e=B(tEnd),d=B(tEnd-0.03);const ang=Math.atan2(e.y-d.y,e.x-d.x);ctx.fillStyle=color;ctx.beginPath();
    ctx.moveTo(e.x,e.y);ctx.lineTo(e.x-6*Math.cos(ang)+2.8*Math.sin(ang),e.y-6*Math.sin(ang)-2.8*Math.cos(ang));
    ctx.lineTo(e.x-6*Math.cos(ang)-2.8*Math.sin(ang),e.y-6*Math.sin(ang)+2.8*Math.cos(ang));ctx.closePath();ctx.fill();}
  ctx.restore();
}
new Chart(mk(),{type:'scatter',
  data:{datasets:[{data:nodeX.map((x,i)=>({x:x,y:nodeY[i]})),
    pointStyle:[diamondImg(),starImg(),'circle','circle'],pointRadius:[7,17,6.2,6.2],
    pointBackgroundColor:['#fff','#c8c8c8','#e8566e','#2f5fe8'],pointBorderColor:['#111','#7a2fa0','#222','#222'],pointBorderWidth:[1,2,1.4,1.4]}]},
  options:baseOpts([480,0,720,200],{x:{type:'linear',display:false,min:0,max:240},y:{type:'linear',display:false,min:0,max:200,reverse:true}}),
  plugins:[{id:'net',
    beforeDatasetsDraw(ch){const ctx=ch.ctx,xs=ch.scales.x,ys=ch.scales.y;
      const P=i=>({x:xs.getPixelForValue(nodeX[i]),y:ys.getPixelForValue(nodeY[i])});
      edges.forEach(e=>drawEdge(ctx,P(e[0]),{x:xs.getPixelForValue(e[2]),y:ys.getPixelForValue(e[3])},P(e[1]),e[4],e[5],e[6]));},
    afterDraw(ch){const ctx=ch.ctx,xs=ch.scales.x,ys=ch.scales.y;
      const P=i=>({x:xs.getPixelForValue(nodeX[i]),y:ys.getPixelForValue(nodeY[i])});
      const g=P(0);txt(ctx,nodeNames[0],g.x+13.8,g.y-1.5,{size:9.5,w:'bold',align:'left'});
      const a=P(2);txt(ctx,nodeNames[2],a.x+13.2,a.y-7.3,{size:9.5,w:'bold',align:'left'});
      txt(ctx,'Value: '+metValues[0],a.x+13.2,a.y+2.7,{size:9.5,align:'left'});
      txt(ctx,'Statistic: '+metStats[0],a.x+13.2,a.y+12.7,{size:9.5,align:'left'});
      const b=P(3);txt(ctx,nodeNames[3],b.x+13.4,b.y-7,{size:9.5,w:'bold',align:'left'});
      txt(ctx,'Value: '+metValues[1],b.x+13.4,b.y+4.2,{size:9.5,align:'left'});
      txt(ctx,'Statistic: '+metStats[1],b.x+13.4,b.y+14.2,{size:9.5,align:'left'});
      // panel divider and row labels
      ln(ctx,505.5,248,505.5,711,'#222',1.8);
      txt(ctx,'Early',10,340,{size:17.5,rot:ROT});
      txt(ctx,'Late',10,591,{size:17.5,rot:ROT});
    }}]});
</script></body></html>
